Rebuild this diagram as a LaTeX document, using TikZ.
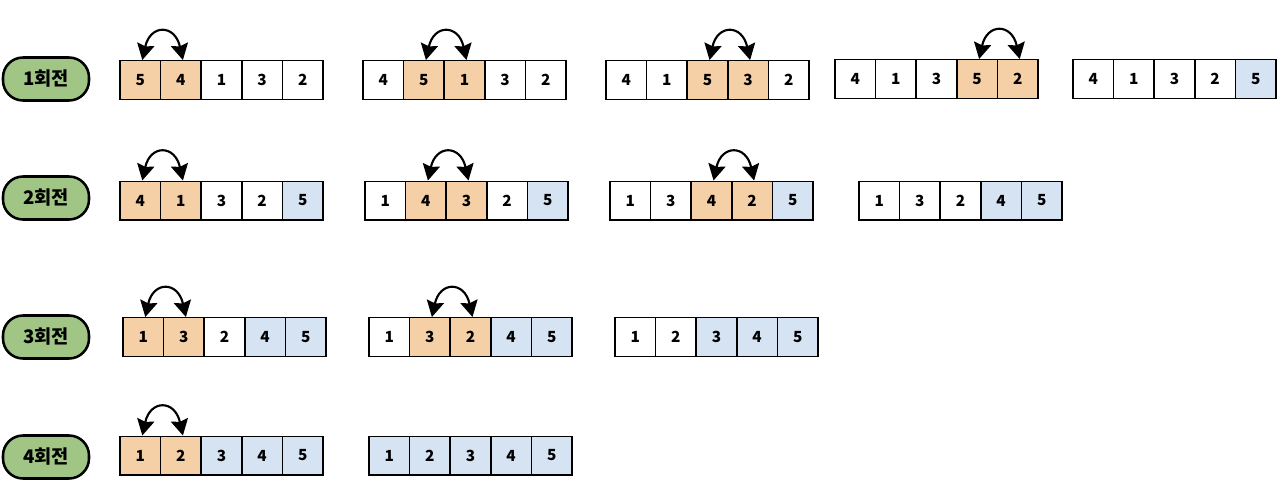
\documentclass[tikz,border=0pt]{standalone}
\usepackage{fontspec}
\setmainfont{Noto Sans CJK KR}
\usetikzlibrary{arrows.meta}

\definecolor{swapfill}{RGB}{245,207,165}
\definecolor{donefill}{RGB}{213,227,242}
\definecolor{passfill}{RGB}{160,197,133}

\tikzset{
  cell/.style={draw, line width=1.1pt, fill=white, minimum width=30.45pt, minimum height=28.9pt, inner sep=0pt, font=\fontsize{11.5}{13}\selectfont\bfseries},
  swapcell/.style={cell, fill=swapfill},
  donecell/.style={cell, fill=donefill},
  passlabel/.style={draw, line width=1.9pt, fill=passfill, rounded corners=15pt, minimum width=64.5pt, minimum height=32.25pt, inner sep=0pt, font=\fontsize{14}{16}\selectfont\bfseries},
  swaparrow/.style={line width=1.6pt, {Stealth[length=12pt,width=13pt,inset=1.5pt]}-{Stealth[length=12pt,width=13pt,inset=1.5pt]}},
}

\begin{document}
\begin{tikzpicture}[x=0.75pt,y=0.75pt,yscale=-1,xscale=1]
\useasboundingbox (0,0) rectangle (1280,496); %set diagram to 1280 x 496

% Pass labels
\node [passlabel] (pass1) at (46,79) {1회전};
\node [passlabel] (pass2) at (46,198) {2회전};
\node [passlabel] (pass3) at (46,337) {3회전};
\node [passlabel] (pass4) at (46,457) {4회전};

%% Pass 1
% Array [p1s1]
\node [swapcell] (p1s1n1) at (140.3,80) {5};
\node [swapcell] (p1s1n2) at (180.9,80) {4};
\node [cell] (p1s1n3) at (221.5,80) {1};
\node [cell] (p1s1n4) at (262.1,80) {3};
\node [cell] (p1s1n5) at (302.7,80) {2};
% Array [p1s2]
\node [cell] (p1s2n1) at (383.3,80) {4};
\node [swapcell] (p1s2n2) at (423.9,80) {5};
\node [swapcell] (p1s2n3) at (464.5,80) {1};
\node [cell] (p1s2n4) at (505.1,80) {3};
\node [cell] (p1s2n5) at (545.7,80) {2};
% Array [p1s3]
\node [cell] (p1s3n1) at (626.3,80) {4};
\node [cell] (p1s3n2) at (666.9,80) {1};
\node [swapcell] (p1s3n3) at (707.5,80) {5};
\node [swapcell] (p1s3n4) at (748.1,80) {3};
\node [cell] (p1s3n5) at (788.7,80) {2};
% Array [p1s4]
\node [cell] (p1s4n1) at (855.3,79) {4};
\node [cell] (p1s4n2) at (895.9,79) {1};
\node [cell] (p1s4n3) at (936.5,79) {3};
\node [swapcell] (p1s4n4) at (977.1,79) {5};
\node [swapcell] (p1s4n5) at (1017.7,79) {2};
% Array [p1s5]
\node [cell] (p1s5n1) at (1093.3,79) {4};
\node [cell] (p1s5n2) at (1133.9,79) {1};
\node [cell] (p1s5n3) at (1174.5,79) {3};
\node [cell] (p1s5n4) at (1215.1,79) {2};
\node [donecell] (p1s5n5) at (1255.7,79) {5};

%% Pass 2
% Array [p2s1]
\node [swapcell] (p2s1n1) at (140.3,200.5) {4};
\node [swapcell] (p2s1n2) at (180.9,200.5) {1};
\node [cell] (p2s1n3) at (221.5,200.5) {3};
\node [cell] (p2s1n4) at (262.1,200.5) {2};
\node [donecell] (p2s1n5) at (302.7,200.5) {5};
% Array [p2s2]
\node [cell] (p2s2n1) at (385.3,200.5) {1};
\node [swapcell] (p2s2n2) at (425.9,200.5) {4};
\node [swapcell] (p2s2n3) at (466.5,200.5) {3};
\node [cell] (p2s2n4) at (507.1,200.5) {2};
\node [donecell] (p2s2n5) at (547.7,200.5) {5};
% Array [p2s3]
\node [cell] (p2s3n1) at (630.3,200.5) {1};
\node [cell] (p2s3n2) at (670.9,200.5) {3};
\node [swapcell] (p2s3n3) at (711.5,200.5) {4};
\node [swapcell] (p2s3n4) at (752.1,200.5) {2};
\node [donecell] (p2s3n5) at (792.7,200.5) {5};
% Array [p2s4]
\node [cell] (p2s4n1) at (879.3,200.5) {1};
\node [cell] (p2s4n2) at (919.9,200.5) {3};
\node [cell] (p2s4n3) at (960.5,200.5) {2};
\node [donecell] (p2s4n4) at (1001.1,200.5) {4};
\node [donecell] (p2s4n5) at (1041.7,200.5) {5};

%% Pass 3
% Array [p3s1]
\node [swapcell] (p3s1n1) at (143.3,337) {1};
\node [swapcell] (p3s1n2) at (183.9,337) {3};
\node [cell] (p3s1n3) at (224.5,337) {2};
\node [donecell] (p3s1n4) at (265.1,337) {4};
\node [donecell] (p3s1n5) at (305.7,337) {5};
% Array [p3s2]
\node [cell] (p3s2n1) at (389.3,337) {1};
\node [swapcell] (p3s2n2) at (429.9,337) {3};
\node [swapcell] (p3s2n3) at (470.5,337) {2};
\node [donecell] (p3s2n4) at (511.1,337) {4};
\node [donecell] (p3s2n5) at (551.7,337) {5};
% Array [p3s3]
\node [cell] (p3s3n1) at (635.3,337) {1};
\node [cell] (p3s3n2) at (675.9,337) {2};
\node [donecell] (p3s3n3) at (716.5,337) {3};
\node [donecell] (p3s3n4) at (757.1,337) {4};
\node [donecell] (p3s3n5) at (797.7,337) {5};

%% Pass 4
% Array [p4s1]
\node [swapcell] (p4s1n1) at (140.3,455.5) {1};
\node [swapcell] (p4s1n2) at (180.9,455.5) {2};
\node [donecell] (p4s1n3) at (221.5,455.5) {3};
\node [donecell] (p4s1n4) at (262.1,455.5) {4};
\node [donecell] (p4s1n5) at (302.7,455.5) {5};
% Array [p4s2]
\node [donecell] (p4s2n1) at (389.3,455.5) {1};
\node [donecell] (p4s2n2) at (429.9,455.5) {2};
\node [donecell] (p4s2n3) at (470.5,455.5) {3};
\node [donecell] (p4s2n4) at (511.1,455.5) {4};
\node [donecell] (p4s2n5) at (551.7,455.5) {5};

% Swap arrows
\draw [swaparrow] ([xshift=1.5pt]p1s1n1.north) .. controls +(8,-36) and +(-8,-36) .. ([xshift=1.5pt]p1s1n2.north);
\draw [swaparrow] ([xshift=1.5pt]p1s2n2.north) .. controls +(8,-36) and +(-8,-36) .. ([xshift=1.5pt]p1s2n3.north);
\draw [swaparrow] ([xshift=1.5pt]p1s3n3.north) .. controls +(8,-36) and +(-8,-36) .. ([xshift=1.5pt]p1s3n4.north);
\draw [swaparrow] ([xshift=1.5pt]p1s4n4.north) .. controls +(8,-36) and +(-8,-36) .. ([xshift=1.5pt]p1s4n5.north);
\draw [swaparrow] ([xshift=1.5pt]p2s1n1.north) .. controls +(8,-36) and +(-8,-36) .. ([xshift=1.5pt]p2s1n2.north);
\draw [swaparrow] ([xshift=1.5pt]p2s2n2.north) .. controls +(8,-36) and +(-8,-36) .. ([xshift=1.5pt]p2s2n3.north);
\draw [swaparrow] ([xshift=1.5pt]p2s3n3.north) .. controls +(8,-36) and +(-8,-36) .. ([xshift=1.5pt]p2s3n4.north);
\draw [swaparrow] ([xshift=1.5pt]p3s1n1.north) .. controls +(8,-36) and +(-8,-36) .. ([xshift=1.5pt]p3s1n2.north);
\draw [swaparrow] ([xshift=1.5pt]p3s2n2.north) .. controls +(8,-36) and +(-8,-36) .. ([xshift=1.5pt]p3s2n3.north);
\draw [swaparrow] ([xshift=1.5pt]p4s1n1.north) .. controls +(8,-36) and +(-8,-36) .. ([xshift=1.5pt]p4s1n2.north);

\end{tikzpicture}
\end{document}
